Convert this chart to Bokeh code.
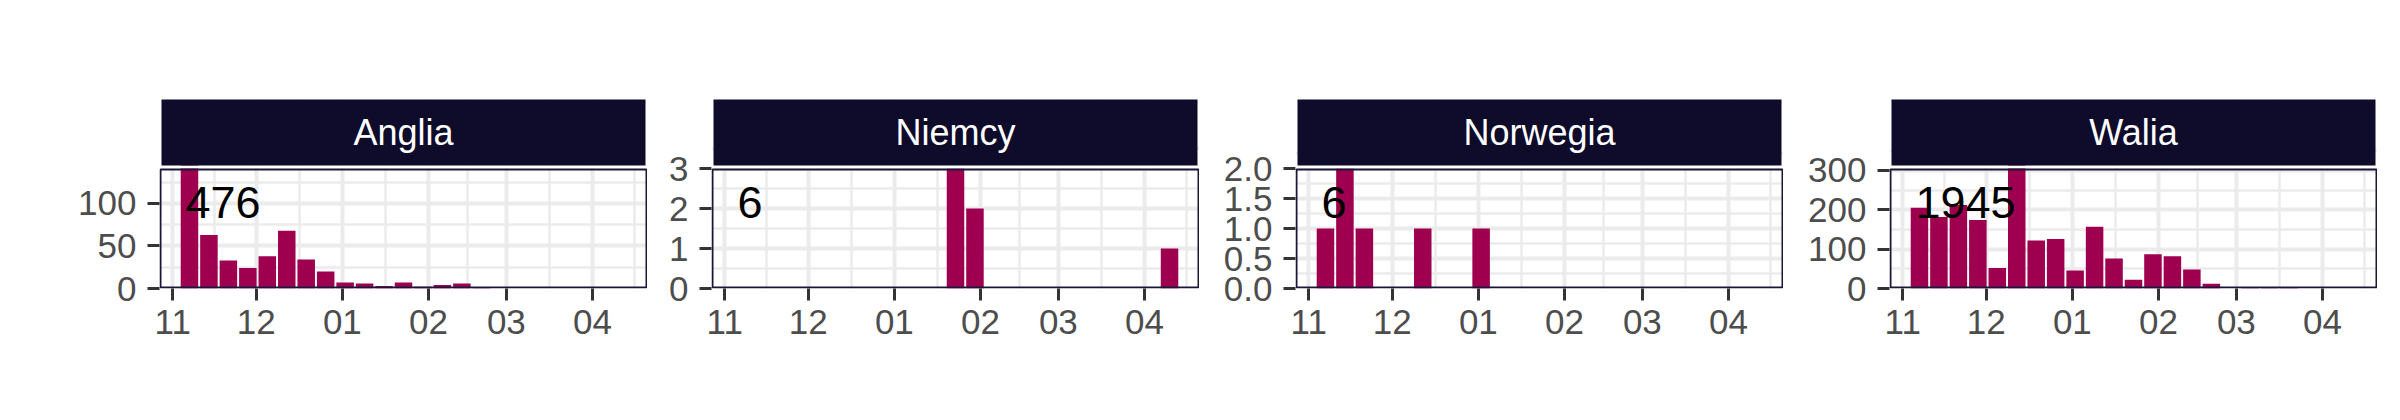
import pandas as pd
from bokeh.plotting import figure
from bokeh.layouts import row
from bokeh.models import (Range1d, FixedTicker, DatetimeTickFormatter, NumeralTickFormatter,
                          Label, BoxAnnotation)
from bokeh.core.properties import value
from bokeh.embed import file_html
from bokeh.resources import INLINE

# ---------------- data ----------------
countries = ["Anglia", "Niemcy", "Norwegia", "Walia"]
week_start = pd.date_range("2021-11-07", periods=23, freq="7D")
counts_anglia = [160, 63, 33, 24, 38, 68, 34, 20, 7, 6, 3, 7, 2, 4, 6, 1, 0, 0, 0, 0, 0, 0, 0]
counts_niemcy = [0, 0, 0, 0, 0, 0, 0, 0, 0, 0, 0, 3, 2, 0, 0, 0, 0, 0, 0, 0, 0, 0, 1]
counts_norwegia = [1, 2, 1, 0, 0, 1, 0, 0, 1, 0, 0, 0, 0, 0, 0, 0, 0, 0, 0, 0, 0, 0, 0]
counts_walia = [205, 182, 212, 174, 52, 339, 122, 126, 46, 157, 76, 22, 87, 82, 48, 12, 0, 1, 1, 1, 0, 0, 0]
totals = [476, 6, 6, 1945]
y_limits = [141, 3, 2, 305]
y_ticks = [[0, 50, 100], [0, 1, 2, 3], [0, 0.5, 1.0, 1.5, 2.0], [0, 100, 200, 300]]
y_formats = ["0", "0", "0.0", "0"]
month_ticks = ["2021-11-01", "2021-12-01", "2022-01-01", "2022-02-01", "2022-03-01", "2022-04-01", "2022-05-01"]
month_labels = ["11", "12", "01", "02", "03", "04"]

all_counts = [counts_anglia, counts_niemcy, counts_norwegia, counts_walia]

# ---------------- style / layout ----------------
FONT = "Liberation Sans"
BAR = "#9E004F"
STRIP = "#0F0B2B"
BORDER = "#1A1638"
GRID = "#EBEBEB"
TICKC = "#333333"
LABC = "#4D4D4D"

frame_left = [159, 711, 1295, 1889]
frame_w = 488
panel_h = 120          # data panel height (px)
gap_h = 3              # white gap between strip and panel
strip_h = 66           # strip height
total_h = panel_h + gap_h + strip_h
frame_top = 99

DAY = 86400000.0
mt = [pd.Timestamp(d) for d in month_ticks]
major_ms = [t.value / 1e6 for t in mt[:-1]]
minor_ms = [(mt[i].value + mt[i + 1].value) / 2e6 for i in range(len(mt) - 1)]
x0 = major_ms[0] - 4.78 * DAY
x1 = major_ms[0] + 170.78 * DAY

figs = []
prev_right = 0
for i, name in enumerate(countries):
    lb = frame_left[i] - prev_right
    prev_right = frame_left[i] + frame_w
    ymax = y_limits[i]

    p = figure(frame_width=frame_w, frame_height=total_h, min_border_left=lb,
               min_border_right=0, min_border_top=frame_top, min_border_bottom=70,
               x_axis_type="datetime",
               x_range=Range1d(x0, x1), y_range=Range1d(0, ymax * total_h / panel_h),
               toolbar_location=None, output_backend="svg")
    p.background_fill_color = "white"
    p.border_fill_color = "white"
    p.outline_line_color = None

    p.vbar(x=week_start, top=all_counts[i], width=0.9 * 7 * DAY,
           fill_color=BAR, line_color=None)

    p.text(x=[week_start[0]], y=[0.72 * ymax], text=[str(totals[i])],
           text_font=value(FONT), text_font_size="45px", text_color="black",
           text_align="left", text_baseline="middle", x_offset=-4)

    # white gap + facet strip above the data panel
    p.add_layout(BoxAnnotation(bottom=panel_h, top=panel_h + gap_h,
                               bottom_units="screen", top_units="screen",
                               fill_color="white", fill_alpha=1, line_color=None))
    p.add_layout(BoxAnnotation(left=2, right=frame_w - 2,
                               bottom=panel_h + gap_h, top=total_h + 2,
                               left_units="screen", right_units="screen",
                               bottom_units="screen", top_units="screen",
                               fill_color=STRIP, fill_alpha=1, line_color=None))
    # panel border drawn over the grid, fully inside the frame
    p.add_layout(BoxAnnotation(left=1, right=frame_w - 1, bottom=1, top=panel_h - 1,
                               left_units="screen", right_units="screen",
                               bottom_units="screen", top_units="screen",
                               fill_color=None, fill_alpha=0, line_color=BORDER,
                               line_alpha=1, line_width=2, line_dash="solid"))
    p.add_layout(Label(x=frame_w / 2, y=panel_h + gap_h + strip_h / 2,
                       x_units="screen", y_units="screen",
                       text=name, text_align="center", text_baseline="middle",
                       text_color="white", text_font=FONT, text_font_size="36px"))

    yt = y_ticks[i]
    step = yt[1] - yt[0]
    y_minor = [v + step / 2 for v in yt]
    p.xaxis.ticker = FixedTicker(ticks=major_ms, minor_ticks=minor_ms)
    p.xaxis.formatter = DatetimeTickFormatter(months="%m", days="%m", hours="%m", years="%m",
                                              milliseconds="%m", seconds="%m", minsec="%m",
                                              minutes="%m", hourmin="%m")
    p.xaxis.major_label_overrides = {m: lab for m, lab in zip(major_ms, month_labels)}
    p.yaxis.ticker = FixedTicker(ticks=yt, minor_ticks=y_minor)
    p.yaxis.formatter = NumeralTickFormatter(format=y_formats[i])

    for ax in (p.xaxis[0], p.yaxis[0]):
        ax.axis_line_color = None
        ax.major_tick_out = 12
        ax.major_tick_in = 0
        ax.major_tick_line_width = 3
        ax.major_tick_line_color = TICKC
        ax.minor_tick_line_color = None
        ax.major_label_text_font = FONT
        ax.major_label_text_font_size = "35px"
        ax.major_label_text_color = LABC
    p.xaxis.major_label_standoff = 9
    p.yaxis.major_label_standoff = 11

    for g in (p.xgrid[0], p.ygrid[0]):
        g.grid_line_color = GRID
        g.grid_line_width = 4
        g.minor_grid_line_color = GRID
        g.minor_grid_line_width = 2.5

    figs.append(p)

layout = row(*figs, spacing=0)
open("out.html", "w").write(file_html(layout, INLINE))
